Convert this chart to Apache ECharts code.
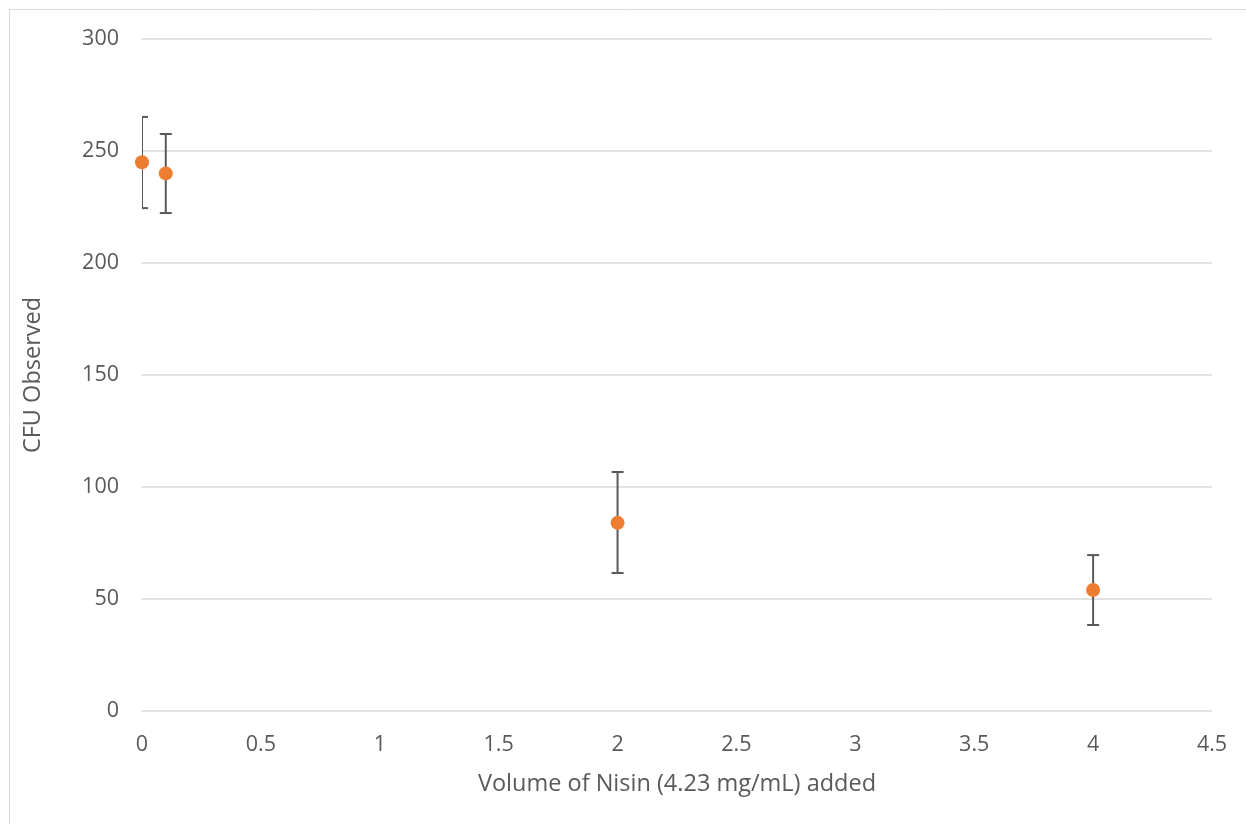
<!DOCTYPE html>
<html><head><meta charset="utf-8">
<script src="https://cdn.jsdelivr.net/npm/echarts@6/dist/echarts.min.js"></script>
<style>html,body{margin:0;padding:0;background:#fff}#c{width:1246px;height:824px}</style>
</head><body><div id="c"></div>
<script>
const xValues = [0, 0.1, 2, 4];
const yValues = [245, 240, 84, 54];
const errLow = [224.5, 222.3, 61.6, 38.4];
const errHigh = [265.2, 257.6, 106.7, 69.6];

const chart = echarts.init(document.getElementById('c'));
const font = '"Open Sans", "Liberation Sans", sans-serif';
chart.setOption({
  animation: false,
  graphic: [{type:'rect', shape:{x:9.5,y:9.5,width:1250,height:830}, style:{fill:'none', stroke:'#d9d9d9', lineWidth:1}}],
  grid: {left:142, right:34, top:39, bottom:113},
  xAxis: {
    type:'value', min:0, max:4.5, interval:0.5,
    name:'Volume of Nisin (4.23 mg/mL) added', nameLocation:'middle', nameGap:61,
    nameTextStyle:{color:'#595959', fontSize:23.5, fontFamily:font},
    axisLine:{show:false}, axisTick:{show:false}, splitLine:{show:false},
    axisLabel:{color:'#595959', fontSize:21.5, fontFamily:font, margin:23}
  },
  yAxis: {
    type:'value', min:0, max:300, interval:50,
    name:'CFU Observed', nameLocation:'middle', nameGap:97,
    nameTextStyle:{color:'#595959', fontSize:23.5, fontFamily:font},
    axisLine:{show:false}, axisTick:{show:false},
    splitLine:{lineStyle:{color:'#d9d9d9', width:1.5}},
    axisLabel:{color:'#595959', fontSize:21.5, fontFamily:font, margin:23}
  },
  series: [
    {
      type:'custom', clip:true, z:2,
      data: xValues.map((x,i)=>[x, errLow[i], errHigh[i]]),
      renderItem: function(params, api){
        const lo = api.coord([api.value(0), api.value(1)]);
        const hi = api.coord([api.value(0), api.value(2)]);
        const w = 6;
        const st = {stroke:'#595959', lineWidth:2, fill:'none'};
        return {type:'group', children:[
          {type:'line', shape:{x1:lo[0],y1:lo[1],x2:hi[0],y2:hi[1]}, style:st},
          {type:'line', shape:{x1:lo[0]-w,y1:lo[1],x2:lo[0]+w,y2:lo[1]}, style:st},
          {type:'line', shape:{x1:hi[0]-w,y1:hi[1],x2:hi[0]+w,y2:hi[1]}, style:st}
        ]};
      }
    },
    {
      type:'scatter', z:3, symbol:'circle', symbolSize:14,
      itemStyle:{color:'#ED7D31', opacity:1},
      data: xValues.map((x,i)=>[x, yValues[i]])
    }
  ]
});
</script></body></html>
